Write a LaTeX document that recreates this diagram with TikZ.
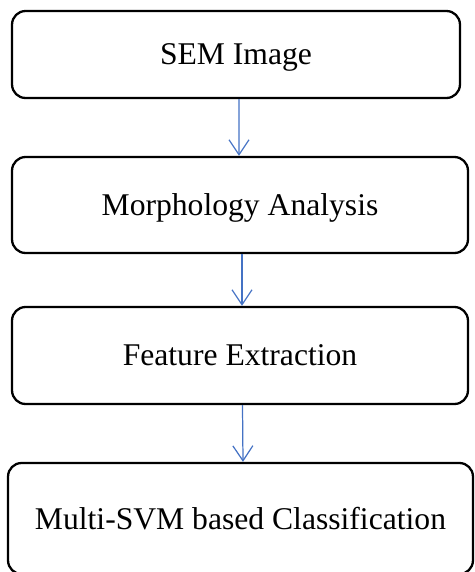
\documentclass[tikz,border=0pt]{standalone}
\usepackage{fontspec}
\setmainfont{Liberation Serif}
\usetikzlibrary{arrows.meta,positioning}

\begin{document}
\begin{tikzpicture}[x=0.02cm,y=-0.02cm,
  flow/.style={-{Straight Barb[length=0.3cm,width=0.4cm]},draw={rgb,255:red,68;green,114;blue,196},line width=0.7pt},
  step box/.style={draw,line width=1.3pt,rounded corners=0.27cm,inner sep=0pt,text depth=0pt,font=\fontsize{18}{22}\selectfont}]
  \useasboundingbox (0,0) rectangle (474,572);
  \node[step box,minimum width=8.96cm,minimum height=1.74cm] (sem) at (236,54.5) {SEM Image};
  \node[step box,minimum width=9.12cm,minimum height=1.92cm] (morph) at (240,205) {Morphology Analysis};
  \node[step box,minimum width=9.12cm,minimum height=1.94cm] (feat) at (240,355.5) {Feature Extraction};
  \node[step box,minimum width=9.3cm,minimum height=2.22cm] (svm) at (240.5,518.5) {Multi-SVM based Classification};

  \draw[flow] ([xshift=0.06cm]sem.south) -- ([xshift=-0.02cm]morph.north);
  \draw[flow] ([xshift=0.04cm]morph.south) -- ([xshift=0.04cm]feat.north);
  \draw[flow] ([xshift=0.05cm]feat.south) -- ([xshift=0.05cm]svm.north);
\end{tikzpicture}
\end{document}
